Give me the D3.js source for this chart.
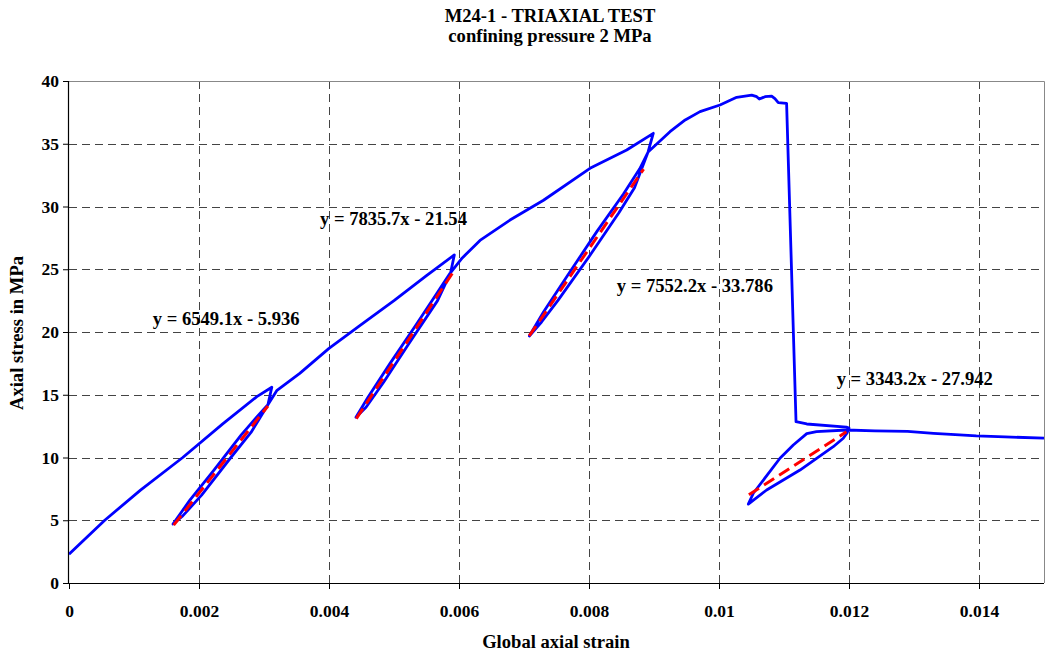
<!DOCTYPE html>
<html>
<head>
<meta charset="utf-8">
<script src="https://cdn.jsdelivr.net/npm/d3@7"></script>
<style>
  html, body { margin: 0; padding: 0; background: #fff; }
  svg { display: block; }
  text { font-family: "Liberation Serif", "Times New Roman", serif; font-weight: bold; fill: #000; }
</style>
</head>
<body>
<svg id="chart" width="1047" height="656"></svg>
<script>
// ---- data ----
const titleLines = ["M24-1 - TRIAXIAL TEST", "confining pressure 2 MPa"];
const xTitle = "Global axial strain";
const yTitle = "Axial stress in MPa";
const xTicks = [0, 0.002, 0.004, 0.006, 0.008, 0.01, 0.012, 0.014];
const yTicks = [0, 5, 10, 15, 20, 25, 30, 35, 40];

// measured curve (strain, stress in MPa), in test order
const strain = [
  0, 0.00055, 0.0011, 0.00175, 0.00237, 0.00289, 0.00312,
  0.00306, 0.0028, 0.00249, 0.00204, 0.00175, 0.0016,
  0.00186, 0.00223, 0.00265, 0.0029, 0.00306, 0.0032, 0.00355,
  0.004, 0.0045, 0.005, 0.0055, 0.005928,
  0.00587, 0.00567, 0.00522, 0.00484, 0.00457, 0.004415,
  0.0046, 0.00494, 0.00533, 0.00565, 0.005862, 0.00605, 0.006323,
  0.006785, 0.0073, 0.008015, 0.00858, 0.008989,
  0.00891, 0.0087, 0.00846, 0.008, 0.00752, 0.00727, 0.007082,
  0.0073, 0.00767, 0.00812, 0.00853, 0.00878, 0.008913, 0.009246,
  0.00948, 0.009708, 0.010015, 0.010272, 0.010503, 0.01058, 0.01062,
  0.010708, 0.01081, 0.01086, 0.010912, 0.01104, 0.011185,
  0.01135, 0.01196, 0.012,
  0.01197, 0.011912, 0.011758, 0.011246, 0.010733, 0.010451,
  0.010528, 0.010938, 0.011143, 0.01135, 0.0115, 0.011964,
  0.0124, 0.0129, 0.0133, 0.0137, 0.01396, 0.0144, 0.015
];
const stress = [
  2.3, 5.0, 7.4, 10.0, 12.7, 14.85, 15.6,
  14.2, 12.0, 10.0, 7.0, 5.35, 4.7,
  6.6, 9.0, 11.8, 13.3, 14.2, 15.35, 16.7,
  18.7, 20.6, 22.5, 24.5, 26.14,
  24.7, 22.5, 19.0, 16.0, 14.0, 13.2,
  14.8, 17.5, 20.5, 23.0, 24.68, 25.9, 27.3,
  28.92, 30.5, 33.04, 34.5, 35.83,
  34.37, 31.5, 29.5, 26.0, 22.5, 20.8, 19.68,
  21.6, 24.5, 28.0, 31.0, 33.0, 34.37, 35.96,
  36.9, 37.56, 38.09, 38.7, 38.88, 38.75, 38.56,
  38.75, 38.8, 38.6, 38.27, 38.22, 12.85,
  12.67, 12.42, 12.35,
  11.95, 11.53, 10.86, 9.0, 7.41, 6.29,
  7.15, 9.94, 11.0, 11.9, 12.06, 12.19,
  12.12, 12.08, 11.93, 11.8, 11.72, 11.64, 11.55
];

// linear fits of the unload/reload loops
const fitSlope = [6549.1, 7835.7, 7552.2, 3343.2];
const fitIntercept = ["5.936", "21.54", "33.786", "27.942"]; // subtracted
const fitStart = [0.00161, 0.00442, 0.00708, 0.01046];
const fitEnd = [0.00306, 0.00594, 0.00884, 0.01196];
// label anchor (data coordinates: strain, stress)
const labelStrain = [0.001288, 0.003862, 0.008426, 0.01181];
const labelStress = [20.56, 28.53, 23.19, 15.78];

// ---- layout ----
const svg = d3.select("#chart");
const L = 69, R = 1044, T = 81, B = 583;
const x = d3.scaleLinear().domain([0, 0.015]).range([L, R]);
const y = d3.scaleLinear().domain([0, 40]).range([B, T]);

// grid
const grid = svg.append("g").attr("stroke", "#444").attr("stroke-width", 1).attr("stroke-dasharray", "8,5");
grid.selectAll("line.gx").data(xTicks.filter(d => d > 0)).join("line")
  .attr("x1", d => Math.round(x(d)) + 0.5).attr("x2", d => Math.round(x(d)) + 0.5)
  .attr("y1", T).attr("y2", B);
grid.selectAll("line.gy").data(yTicks.filter(d => d > 0 && d < 40)).join("line")
  .attr("y1", d => Math.round(y(d)) + 0.5).attr("y2", d => Math.round(y(d)) + 0.5)
  .attr("x1", L).attr("x2", R);

// frame top/right
svg.append("path").attr("d", `M${L},${T + 0.5}H${R + 0.5}V${B}`)
  .attr("fill", "none").attr("stroke", "#888").attr("stroke-width", 1);

// axes
const xAxis = d3.axisBottom(x).tickValues(xTicks).tickSize(6).tickPadding(16)
  .tickFormat(d => d === 0 ? "0" : String(+d.toFixed(3)));
const gx = svg.append("g").attr("transform", `translate(0,${B})`).call(xAxis);
const yAxis = d3.axisLeft(y).tickValues(yTicks).tickSize(6).tickPadding(4).tickFormat(d3.format("d"));
const gy = svg.append("g").attr("transform", `translate(${L},0)`).call(yAxis);
[gx, gy].forEach(g => {
  g.select(".domain").attr("stroke", "#000").attr("stroke-width", 1.2);
  g.selectAll(".tick line").attr("stroke", "#000");
  g.selectAll(".tick text").attr("font-family", "Liberation Serif, Times New Roman, serif")
    .attr("font-weight", "bold").attr("font-size", 17.5).attr("fill", "#000");
});
gx.select(".domain").attr("d", `M${L},0.5H${R}`);
gy.select(".domain").attr("d", `M-0.5,${T}V${B}`);

// clip
svg.append("clipPath").attr("id", "clip").append("rect")
  .attr("x", L).attr("y", T - 5).attr("width", R - L + 3).attr("height", B - T + 5);

// main curve
const pts = strain.map((s, i) => [s, stress[i]]);
svg.append("path").datum(pts)
  .attr("clip-path", "url(#clip)")
  .attr("fill", "none").attr("stroke", "#0000ff").attr("stroke-width", 2.8)
  .attr("stroke-linejoin", "round")
  .attr("d", d3.line().x(d => x(d[0])).y(d => y(d[1])));

// fit lines (drawn on top)
const fits = fitSlope.map((m, i) => ({ m, b: +fitIntercept[i], x0: fitStart[i], x1: fitEnd[i], lab: fitIntercept[i] }));
svg.append("g").selectAll("line").data(fits).join("line")
  .attr("x1", d => x(d.x0)).attr("y1", d => y(d.m * d.x0 - d.b))
  .attr("x2", d => x(d.x1)).attr("y2", d => y(d.m * d.x1 - d.b))
  .attr("stroke", "#ff0000").attr("stroke-width", 3).attr("stroke-dasharray", "12,6");

// equation labels
svg.append("g").selectAll("text").data(fits).join("text")
  .attr("x", (d, i) => x(labelStrain[i])).attr("y", (d, i) => y(labelStress[i]))
  .attr("font-size", 18.6)
  .text(d => `y = ${d.m}x - ${d.lab}`);

// titles
svg.append("text").attr("x", 550).attr("y", 22).attr("text-anchor", "middle").attr("font-size", 18.6).text(titleLines[0]);
svg.append("text").attr("x", 550).attr("y", 42).attr("text-anchor", "middle").attr("font-size", 18.6).text(titleLines[1]);
svg.append("text").attr("x", 556).attr("y", 648).attr("text-anchor", "middle").attr("font-size", 18.6).text(xTitle);
svg.append("text").attr("transform", `translate(23,333) rotate(-90)`).attr("text-anchor", "middle").attr("font-size", 18.6).text(yTitle);
</script>
</body>
</html>
